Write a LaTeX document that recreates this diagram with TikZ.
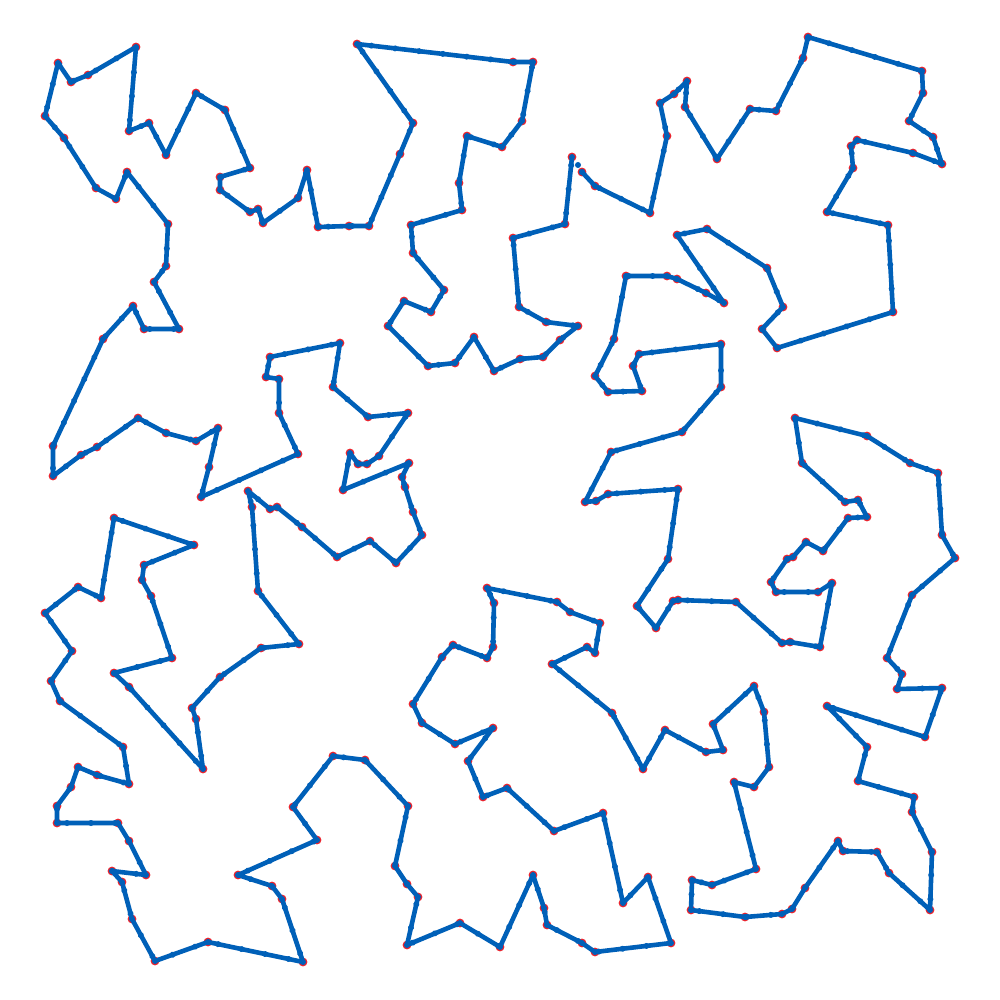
\documentclass[tikz,border=0pt]{standalone}
\usetikzlibrary{decorations.markings}
\definecolor{tourblue}{RGB}{0,96,184}
\definecolor{tourred}{RGB}{235,35,45}
\begin{document}
\begin{tikzpicture}[x=0.5pt,y=-0.5pt,
  tourline/.style={draw=tourblue,line width=2.3pt,line join=round,line cap=round},
  citydot/.style={fill=tourred},
  edgedots/.style={postaction={decorate,decoration={markings,
     mark=between positions 0 and 1 step 12pt with {\fill[tourblue] (0,0) circle (1.5pt);}}}}]
\fill[white] (0,0) rectangle (1000,1000);
\useasboundingbox (0,0) rectangle (1000,1000);
\foreach \x/\y [count=\i] in {
582/172, 595/186, 650/213, 667/136, 660/103, 674/94, 687/81, 685/107, 717/159, 750/109,
776/111, 803/58, 808/37, 922/71, 923/93, 909/121, 933/137, 942/164, 913/153, 857/140,
851/146, 853/168, 827/212, 888/225, 893/312, 777/348, 762/329, 783/307, 767/268, 707/229,
677/235, 724/303, 706/293, 677/279, 667/276, 626/276, 614/339, 595/376, 608/392, 642/391,
633/366, 639/354, 721/344, 721/387, 682/432, 611/452, 585/502, 596/501, 608/494, 678/489,
668/559, 637/606, 656/628, 673/601, 678/600, 736/602, 782/643, 790/642, 820/647, 832/583,
818/592, 776/592, 771/582, 787/559, 793/557, 806/542, 823/551, 848/518, 867/517, 858/500,
845/502, 802/463, 795/418, 867/436, 910/463, 938/473, 942/535, 955/558, 912/595, 887/658,
902/674, 897/689, 942/688, 925/737, 827/706, 867/747, 858/781, 914/797, 912/812, 932/852,
930/910, 889/873, 877/852, 843/851, 838/841, 805/888, 792/909, 782/914, 745/917, 691/910,
692/880, 712/885, 756/869, 734/782, 754/787, 769/767, 764/712, 754/686, 713/724, 723/750,
706/752, 665/730, 643/769, 612/713, 552/664, 587/647, 595/653, 600/623, 570/612, 557/602,
487/588, 494/603, 493/647, 487/658, 453/645, 442/657, 413/704, 422/723, 455/744, 493/728,
468/761, 483/797, 507/788, 554/831, 603/813, 623/903, 648/877, 671/943, 595/952, 582/943,
547/925, 544/908, 533/875, 500/947, 460/923, 407/945, 418/897, 407/884, 395/866, 408/806,
365/760, 333/756, 293/807, 317/840, 238/875, 272/886, 282/899, 303/962, 208/942, 155/961,
132/919, 122/882, 112/871, 146/875, 129/841, 118/823, 57/823, 57/806, 71/787, 78/767,
97/775, 129/784, 123/747, 60/701, 51/681, 72/651, 45/613, 78/587, 101/598, 114/518,
194/545, 144/565, 142/580, 151/596, 172/658, 114/673, 129/687, 203/769, 196/719, 192/708,
220/677, 261/648, 299/644, 258/591, 252/507, 248/491, 270/509, 277/507, 302/527, 337/557,
370/541, 396/563, 422/535, 413/512, 405/487, 402/477, 409/463, 343/490, 350/453, 358/464,
367/464, 379/456, 408/413, 368/417, 333/387, 340/343, 270/357, 266/377, 279/379, 279/413,
298/454, 201/497, 209/467, 218/428, 196/441, 166/433, 138/418, 97/447, 81/455, 53/476,
53/446, 103/339, 133/306, 144/329, 179/329, 154/282, 166/266, 168/224, 127/172, 116/199,
96/188, 64/138, 45/116, 58/63, 71/82, 88/75, 136/47, 129/131, 149/123, 166/155,
196/93, 225/110, 250/168, 220/177, 220/190, 250/212, 258/209, 263/223, 298/198, 307/170,
318/227, 349/226, 369/226, 400/154, 413/123, 357/44, 513/62, 533/62, 522/121, 502/147,
467/136, 459/183, 462/210, 411/225, 413/253, 444/290, 431/312, 404/301, 388/326, 428/366,
455/363, 474/337, 494/371, 520/359, 543/357, 560/340, 578/326, 546/322, 519/307, 513/238,
565/224, 572/157}
  {\coordinate (p\i) at (\x,\y); \xdef\ntour{\i}}
\foreach \i in {1,...,\ntour} \fill[citydot] (p\i) circle (2.2pt);
\draw[tourline,edgedots] (p1) \foreach \i in {2,...,\ntour} {-- (p\i)};
\foreach \i in {1,...,\ntour} \fill[tourblue] (p\i) circle (1.5pt);
\coordinate (gapdot) at (578,165);
\fill[tourblue] (gapdot) circle (1.5pt);
\end{tikzpicture}
\end{document}
